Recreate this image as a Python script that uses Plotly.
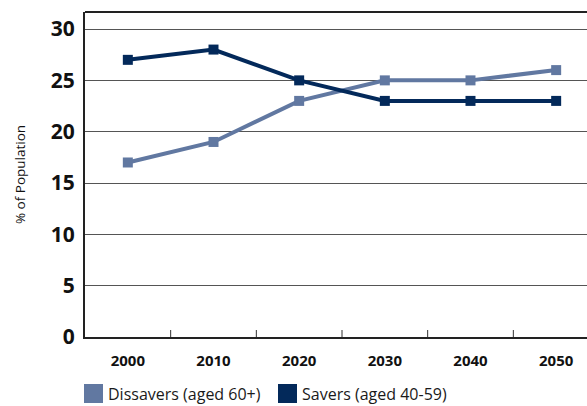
import plotly.graph_objects as go

years = [2000, 2010, 2020, 2030, 2040, 2050]
dissavers = [17, 19, 23, 25, 25, 26]
savers = [27, 28, 25, 23, 23, 23]
series_names = ["Dissavers (aged 60+)", "Savers (aged 40-59)"]
y_ticks = [0, 5, 10, 15, 20, 25, 30]
divider_years = [2005, 2015, 2025, 2035, 2045]

LIGHT = "#6178a1"
DARK = "#03295a"
FONT = "Open Sans"

fig = go.Figure()
fig.add_trace(go.Scatter(
    x=years, y=dissavers, mode="lines+markers", name=series_names[0],
    line=dict(color=LIGHT, width=4), marker=dict(symbol="square", size=10, color=LIGHT),
    showlegend=False,
))
fig.add_trace(go.Scatter(
    x=years, y=savers, mode="lines+markers", name=series_names[1],
    line=dict(color=DARK, width=4), marker=dict(symbol="square", size=10, color=DARK),
    showlegend=False,
))

# plot frame: top border line
fig.add_shape(type="line", xref="paper", yref="paper", x0=0, x1=1, y0=1, y1=1,
              line=dict(color="#222", width=2))

# short upward dividers between the decade categories
for yr in divider_years:
    fig.add_shape(type="line", xref="x", yref="paper", x0=yr, x1=yr,
                  y0=0, y1=7 / 325, line=dict(color="#333", width=1))

# legend swatches and labels below the plot
legend_x = [84, 278]
for name, color, lx in zip(series_names, [LIGHT, DARK], legend_x):
    fig.add_shape(type="rect", xref="paper", yref="paper",
                  x0=(lx - 85) / 502, x1=(lx - 85 + 19) / 502,
                  y0=-(384 - 337) / 325, y1=-(403 - 337) / 325,
                  fillcolor=color, line=dict(width=0))
    fig.add_annotation(text=name, xref="paper", yref="paper",
                       x=(lx - 85 + 22) / 502, y=-(393.5 - 337) / 325,
                       xanchor="left", yanchor="middle", showarrow=False,
                       font=dict(family=FONT, size=16, color="#1a1a1a"))

fig.update_layout(
    width=587, height=406,
    margin=dict(l=85, r=0, t=12, b=69),
    paper_bgcolor="white", plot_bgcolor="white",
    font=dict(family=FONT, color="#111"),
    xaxis=dict(
        range=[1995, 2053.6], tickvals=years, ticktext=[str(y) for y in years],
        ticks="", showgrid=False, zeroline=False,
        showline=True, linecolor="#222", linewidth=2,
        tickfont=dict(family=FONT, size=15, color="#111", weight="bold"),
        ticklabelstandoff=9,
    ),
    yaxis=dict(
        range=[0, 31.66], tickvals=y_ticks, ticks="",
        showgrid=True, gridcolor="#555", gridwidth=1,
        zeroline=False, showline=True, linecolor="#222", linewidth=2,
        tickfont=dict(family=FONT, size=21, color="#111", weight="bold"),
        ticklabelstandoff=4,
        title=dict(text="% of Population", standoff=22,
                   font=dict(family=FONT, size=13.5, color="#111")),
    ),
)

fig.write_html("out.html")
